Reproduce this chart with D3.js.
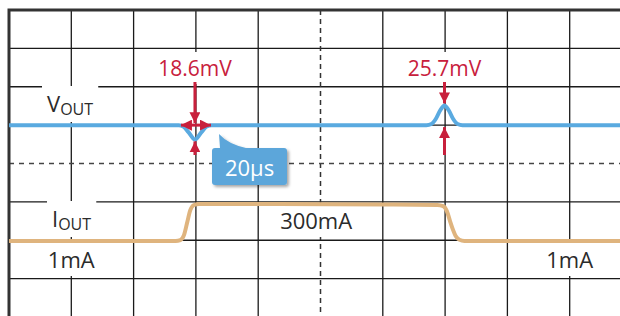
<!DOCTYPE html>
<html>
<head>
<meta charset="utf-8">
<script src="https://cdn.jsdelivr.net/npm/d3@7"></script>
<style>
  body { margin: 0; background: #fff; }
  svg { display: block; font-family: "Open Sans", sans-serif; }
</style>
</head>
<body>
<svg id="chart" width="620" height="316"></svg>
<script>
// time in µs (20µs/div), vout deviation in mV, iout in mA
var voutTime = [0, 54.5, 56, 57.6, 59.7, 61.8, 63.4, 65, 134, 135.6, 137, 138.4, 139.8, 141.2, 142.6, 144, 145.6, 200];
var voutMv   = [0, 0, -2, -9, -18.6, -9, -2, 0, 0, 1.5, 8, 19, 25.7, 19, 8, 1.5, 0, 0];

var ioutTime = [0, 53.5, 55, 56.2, 57.2, 58.2, 59.4, 61, 70, 120, 137.5, 139.4, 140.6, 141.6, 142.4, 143.4, 144.6, 146.2, 150, 200];
var ioutMa   = [1, 1, 8, 50, 150, 250, 292, 300, 300, 296, 292, 282, 240, 160, 100, 40, 10, 1, 1, 1];

var spikeLabels = ["18.6mV", "25.7mV"];
var spikeTimes  = [59.7, 139.8];
var spikeMv     = [-18.6, 25.7];

var levelLabels = ["1mA", "300mA", "1mA"];
var levelTimes  = [20, 98.6, 180];
var levelMa     = [1, 300, 1];

var timeDiv = "20µs";

var svg = d3.select("#chart");

// grid: 10 x 8 divisions
var x = d3.scaleLinear().domain([0, 200]).range([9, 632]);
var yDiv = d3.scaleLinear().domain([0, 8]).range([10, 317]);
// vout: 50mV/div, offset one div above centre
var yV = d3.scaleLinear().domain([-50, 50]).range([yDiv(4), yDiv(2)]);
// iout: lower trace
var yI = d3.scaleLinear().domain([0, 300]).range([241, 204]);

var red = "#c8203c", blue = "#5aaae0", tan = "#dfb47e", ink = "#2b2b2b";

var defs = svg.append("defs");
defs.append("marker")
    .attr("id", "arr")
    .attr("viewBox", "0 0 10 10")
    .attr("refX", 10).attr("refY", 5)
    .attr("markerUnits", "userSpaceOnUse")
    .attr("markerWidth", 11).attr("markerHeight", 11)
    .attr("orient", "auto-start-reverse")
    .append("path").attr("d", "M0,0 L10,5 L0,10 Z").attr("fill", red);
var sh = defs.append("filter").attr("id", "shadow")
    .attr("x", "-20%").attr("y", "-20%").attr("width", "150%").attr("height", "160%");
sh.append("feDropShadow").attr("dx", 2).attr("dy", 2).attr("stdDeviation", 1.5)
    .attr("flood-color", "#000").attr("flood-opacity", 0.35);

var grid = svg.append("g");
grid.selectAll(".vl").data(d3.range(1, 10).filter(function (d) { return d != 5; }))
    .enter().append("line")
    .attr("x1", function (d) { return x(d * 20); }).attr("x2", function (d) { return x(d * 20); })
    .attr("y1", yDiv(0)).attr("y2", yDiv(8))
    .attr("stroke", "#1a1a1a").attr("stroke-width", 1.3);
grid.selectAll(".hl").data(d3.range(1, 8).filter(function (d) { return d != 4; }))
    .enter().append("line")
    .attr("x1", x(0)).attr("x2", x(200))
    .attr("y1", function (d) { return yDiv(d); }).attr("y2", function (d) { return yDiv(d); })
    .attr("stroke", "#1a1a1a").attr("stroke-width", 1.3);
// centre lines dashed
grid.append("line")
    .attr("x1", x(100)).attr("x2", x(100)).attr("y1", yDiv(0)).attr("y2", yDiv(8))
    .attr("stroke", "#333").attr("stroke-width", 1.5).attr("stroke-dasharray", "5,4");
grid.append("line")
    .attr("x1", x(0)).attr("x2", x(200)).attr("y1", yDiv(4)).attr("y2", yDiv(4))
    .attr("stroke", "#444").attr("stroke-width", 1.5).attr("stroke-dasharray", "5,5");
// frame
grid.append("path")
    .attr("d", "M" + x(0) + "," + yDiv(8) + "V" + yDiv(0) + "H" + x(200))
    .attr("fill", "none").attr("stroke", "#333").attr("stroke-width", 3);

// white patches behind labels, filled in after texts are placed
var bg = svg.append("g");
var traces = svg.append("g");
var ann = svg.append("g");
var labels = [];

// traces
var voutLine = d3.line()
    .x(function (d, i) { return x(voutTime[i]); })
    .y(function (d) { return yV(d); })
    .curve(d3.curveMonotoneX);
traces.append("path").attr("d", voutLine(voutMv))
    .attr("fill", "none").attr("stroke", blue).attr("stroke-width", 4);

var ioutLine = d3.line()
    .x(function (d, i) { return x(ioutTime[i]); })
    .y(function (d) { return yI(d); })
    .curve(d3.curveMonotoneX);
traces.append("path").attr("d", ioutLine(ioutMa))
    .attr("fill", "none").attr("stroke", tan).attr("stroke-width", 4);

// spike annotations
spikeTimes.forEach(function (t, i) {
    var cx = x(t), base = yV(0), tip = yV(spikeMv[i]);
    var top = Math.min(base, tip), bot = Math.max(base, tip);
    labels.push(ann.append("text").attr("x", cx).attr("y", 76).attr("text-anchor", "middle")
        .attr("fill", red).attr("font-size", 21).text(spikeLabels[i]));
    ann.append("line").attr("x1", cx).attr("x2", cx).attr("y1", 82).attr("y2", top - 2)
        .attr("stroke", red).attr("stroke-width", 3).attr("marker-end", "url(#arr)");
    ann.append("line").attr("x1", cx).attr("x2", cx).attr("y1", 155).attr("y2", bot + 2)
        .attr("stroke", red).attr("stroke-width", 3).attr("marker-end", "url(#arr)");
});
// width arrow across the dip
ann.append("line")
    .attr("x1", x(spikeTimes[0]) - 14).attr("x2", x(spikeTimes[0]) + 16)
    .attr("y1", yV(0)).attr("y2", yV(0))
    .attr("stroke", red).attr("stroke-width", 3)
    .attr("marker-start", "url(#arr)").attr("marker-end", "url(#arr)");

// callout
var bx = 212, by = 148, bw = 75, bh = 37;
var call = ann.append("g").attr("filter", "url(#shadow)");
call.append("path")
    .attr("d", "M" + (bx + 3) + "," + by + "H" + (bx + 8) + "L" + (bx + 7) + "," + (by - 14) +
        "Q" + (bx + 16) + "," + (by - 4) + " " + (bx + 34) + "," + by +
        "H" + (bx + bw - 3) + "Q" + (bx + bw) + "," + by + " " + (bx + bw) + "," + (by + 3) +
        "V" + (by + bh - 3) + "Q" + (bx + bw) + "," + (by + bh) + " " + (bx + bw - 3) + "," + (by + bh) +
        "H" + (bx + 3) + "Q" + bx + "," + (by + bh) + " " + bx + "," + (by + bh - 3) +
        "V" + (by + 3) + "Q" + bx + "," + by + " " + (bx + 3) + "," + by + "Z")
    .attr("fill", "#5ca6da");
ann.append("text").attr("x", bx + bw / 2).attr("y", by + 28).attr("text-anchor", "middle")
    .attr("fill", "#fff").attr("font-size", 22).text(timeDiv);

// trace labels
var vl = ann.append("text").attr("x", 47).attr("y", 112).attr("fill", ink).attr("font-size", 22);
vl.append("tspan").text("V");
vl.append("tspan").attr("font-size", 16).attr("dy", 3).text("OUT");
var il = ann.append("text").attr("x", 52).attr("y", 227).attr("fill", ink).attr("font-size", 22);
il.append("tspan").text("I");
il.append("tspan").attr("font-size", 16).attr("dy", 3).text("OUT");
labels.push(vl, il);

ann.selectAll(".lvl").data(levelLabels).enter().append("text")
    .attr("x", function (d, i) { return x(levelTimes[i]); })
    .attr("y", function (d, i) { return levelMa[i] > 100 ? 229 : 268; })
    .attr("text-anchor", "middle").attr("fill", ink).attr("font-size", 22)
    .text(function (d) { return d; })
    .each(function () { labels.push(d3.select(this)); });

labels.forEach(function (t) {
    var b = t.node().getBBox();
    bg.append("rect")
        .attr("x", b.x - 5).attr("y", b.y - 2)
        .attr("width", b.width + 10).attr("height", b.height + 4)
        .attr("fill", "#fff");
});
</script>
</body>
</html>
